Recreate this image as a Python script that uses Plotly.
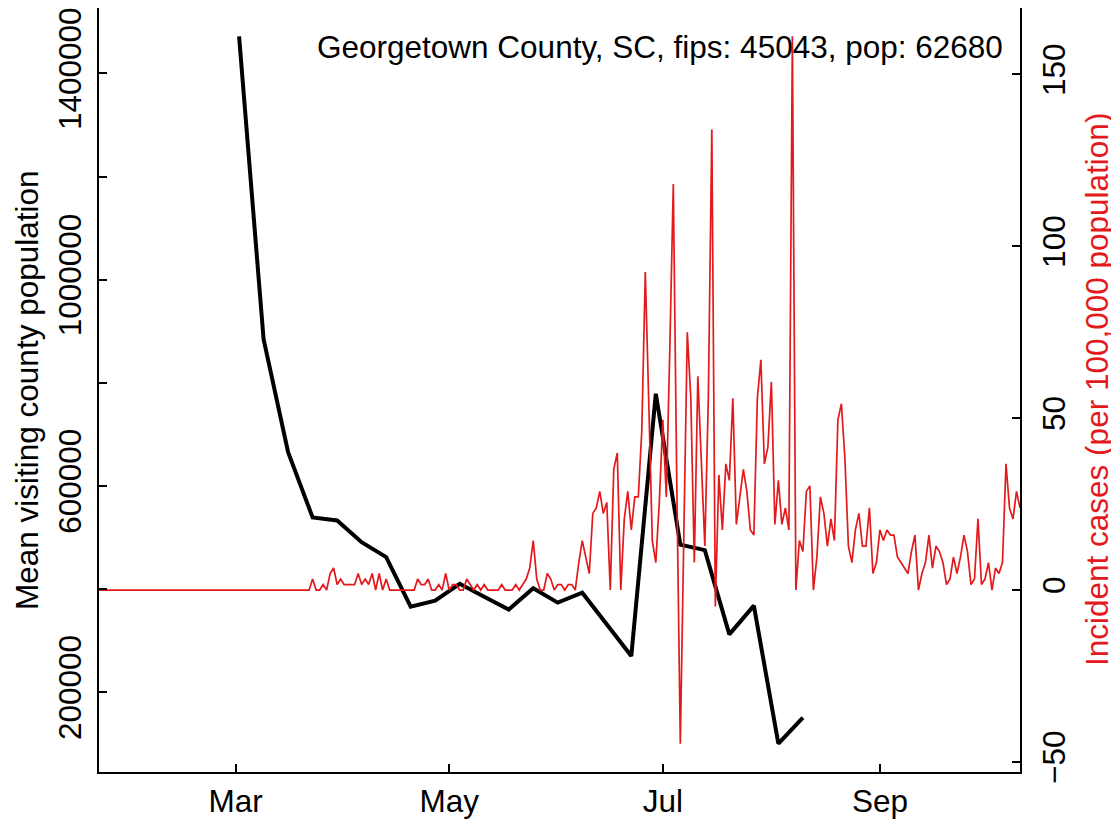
import pandas as pd
import plotly.graph_objects as go

TITLE = "Georgetown County, SC, fips: 45043, pop: 62680"
LEFT_TITLE = "Mean visiting county population"
RIGHT_TITLE = "Incident cases (per 100,000 population)"

# weekly mean visiting population (Mondays)
visit_dates = [
    "2020-03-02", "2020-03-09", "2020-03-16", "2020-03-23", "2020-03-30",
    "2020-04-06", "2020-04-13", "2020-04-20", "2020-04-27", "2020-05-04",
    "2020-05-11", "2020-05-18", "2020-05-25", "2020-06-01", "2020-06-08",
    "2020-06-22", "2020-06-29", "2020-07-06", "2020-07-13", "2020-07-20",
    "2020-07-27", "2020-08-03", "2020-08-10",
]
visit_pop = [
    1472000, 884500, 665600, 538900, 533100,
    490900, 462100, 366100, 377600, 410200,
    385000, 360300, 401600, 373800, 393000,
    270100, 778900, 486100, 475500, 312300,
    368000, 100200, 151000,
]

# daily incident cases per 100,000, starting 2020-01-22
case_start = "2020-01-22"
cases_per_100k = [
    # Jan 22 - Jan 31
    0, 0, 0, 0, 0, 0, 0, 0, 0, 0,
    # Feb
    0, 0, 0, 0, 0, 0, 0, 0, 0, 0,
    0, 0, 0, 0, 0, 0, 0, 0, 0, 0,
    0, 0, 0, 0, 0, 0, 0, 0, 0,
    # Mar 1 - Mar 31
    0, 0, 0, 0, 0, 0, 0, 0, 0, 0,
    0, 0, 0, 0, 0, 0, 0, 0, 0, 0,
    0, 0, 3.2, 0, 0, 1.6, 0, 4.8, 6.4, 1.6, 3.2,
    # Apr
    1.6, 1.6, 1.6, 1.6, 4.8, 1.6, 3.2, 1.6, 4.8, 0,
    4.8, 0, 3.2, 0, 0, 0, 0, 0, 0, 0,
    0, 3.2, 1.6, 1.6, 3.2, 0, 0, 1.6, 0, 4.8,
    # May
    0, 1.6, 1.6, 0, 0, 3.2, 1.6, 0, 1.6, 0,
    1.6, 0, 0, 0, 0, 1.6, 0, 0, 0, 1.6,
    0, 1.6, 3.2, 6.4, 14.4, 3.2, 0, 0, 4.8, 3.2, 0,
    # Jun
    1.6, 1.6, 0, 1.6, 1.6, 0, 8.0, 14.4, 9.6, 4.8,
    22.3, 23.9, 28.7, 22.3, 25.5, 0, 35.1, 39.9, 0, 20.7,
    28.7, 17.5, 27.1, 27.1, 46.3, 92.5, 54.2, 14.4, 8.0, 25.5,
    # Jul
    49.5, 27.1, 70.2, 118.1, 30.3, -44.7, 15.9, 75.0, 55.8, 8.0,
    62.2, 35.1, 12.8, 55.8, 134.0, -4.8, 33.5, 17.5, 36.7, 31.9,
    55.8, 19.1, 27.1, 35.1, 28.7, 17.5, 16.0, 55.8, 67.0, 36.7, 41.5,
    # Aug
    60.6, 19.1, 31.9, 19.1, 23.9, 17.5, 161.1, 0, 14.4, 11.2,
    28.7, 30.3, 0, 9.6, 27.1, 22.3, 12.8, 20.7, 14.4, 49.5,
    54.2, 38.3, 12.8, 8.0, 17.5, 22.3, 12.8, 12.8, 23.9, 4.8, 8.0,
    # Sep
    17.5, 14.4, 17.5, 16.0, 16.0, 9.6, 8.0, 6.4, 4.8, 11.2,
    16.0, 0, 4.8, 8.0, 16.0, 6.4, 12.8, 11.2, 8.0, 1.6,
    3.2, 9.6, 4.8, 9.6, 16.0, 11.2, 1.6, 3.2, 20.7, 1.6,
    # Oct 1 - Oct 11
    3.2, 8.0, 0, 6.4, 4.8, 8.0, 36.7, 23.9, 20.7, 28.7, 23.9,
]

x_tick_vals = ["2020-03-01", "2020-05-01", "2020-07-01", "2020-09-01"]
x_tick_text = ["Mar", "May", "Jul", "Sep"]
left_tick_vals = [200000, 400000, 600000, 800000, 1000000, 1200000, 1400000]
left_tick_text = ["200000", "", "600000", "", "1000000", "", "1400000"]
right_tick_vals = [-50, 0, 50, 100, 150]

RED = "#E3191C"
FONT = "Liberation Sans, Arial, Helvetica, sans-serif"
FS = 31.5


def _r_range(vals):
    # base R pads the data range by 4% on each side
    lo, hi = min(vals), max(vals)
    pad = 0.04 * (hi - lo)
    return [lo - pad, hi + pad]


case_dates = pd.date_range(case_start, periods=len(cases_per_100k), freq="D")

fig = go.Figure()
fig.add_trace(go.Scatter(
    x=pd.to_datetime(visit_dates), y=visit_pop, mode="lines",
    line=dict(color="black", width=4), yaxis="y",
))
fig.add_trace(go.Scatter(
    x=case_dates, y=cases_per_100k, mode="lines",
    line=dict(color=RED, width=1.7), yaxis="y2",
))

axis_common = dict(
    showgrid=False, zeroline=False, showline=True, linecolor="black",
    linewidth=1.5, ticks="inside", ticklen=8, tickwidth=1.5,
    tickcolor="black", automargin=False, ticklabeloverflow="allow",
    tickfont=dict(family=FONT, size=FS, color="black"),
)

# the page body adds an 8px offset, margins are trimmed to compensate
fig.update_layout(
    width=1119, height=822,
    margin=dict(l=91, r=107, t=0, b=58),
    paper_bgcolor="white", plot_bgcolor="white",
    showlegend=False,
    font=dict(family=FONT, size=FS, color="black"),
    xaxis=dict(
        range=[case_dates[0], case_dates[-1]],
        tickvals=x_tick_vals, ticktext=x_tick_text, tickangle=0,
        mirror=True, **axis_common,
    ),
    yaxis=dict(
        range=_r_range(visit_pop),
        tickvals=left_tick_vals, ticktext=left_tick_text, tickangle=-90,
        ticklabelstandoff=4, mirror=True, **axis_common,
    ),
    yaxis2=dict(
        range=_r_range(cases_per_100k), overlaying="y", side="right",
        tickvals=right_tick_vals, tickangle=-90, ticklabelstandoff=5,
        **axis_common,
    ),
    annotations=[
        dict(text=TITLE, xref="paper", yref="paper", x=1, y=1,
             xanchor="right", yanchor="top", xshift=-15, yshift=-19,
             showarrow=False, font=dict(family=FONT, size=FS, color="black")),
        dict(text=LEFT_TITLE, xref="paper", yref="paper", x=0, y=0.5,
             xanchor="center", yanchor="middle", xshift=-72, textangle=-90,
             showarrow=False, font=dict(family=FONT, size=FS, color="black")),
        dict(text=RIGHT_TITLE, xref="paper", yref="paper", x=1, y=0.5,
             xanchor="center", yanchor="middle", xshift=77, textangle=-90,
             showarrow=False, font=dict(family=FONT, size=FS, color=RED)),
    ],
)

fig.write_html("out.html")
